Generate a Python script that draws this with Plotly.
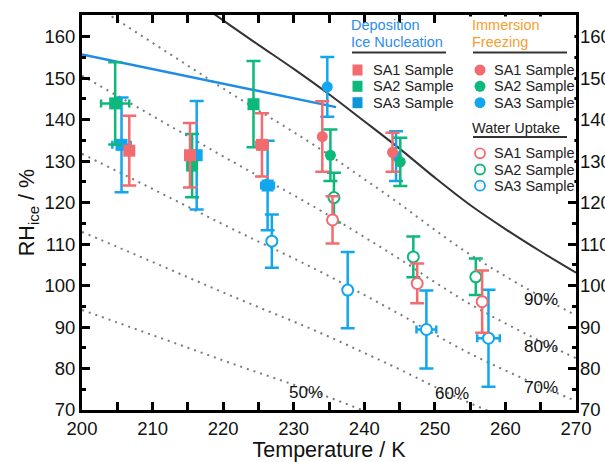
import plotly.graph_objects as go

# ---------------- data ----------------
# Deposition ice nucleation onsets (temperature / K, RH_ice / %, symmetric errors)
dep_sa1_T = [206.7, 215.3, 225.5]
dep_sa1_rh = [132.5, 131.4, 133.9]
dep_sa1_err = [8.4, 7.8, 7.6]
dep_sa1_xerr = [0.0, 0.0, 0.8]

dep_sa2_T = [204.7, 215.6, 224.3]
dep_sa2_rh = [143.9, 128.9, 143.7]
dep_sa2_err = [9.9, 7.6, 10.4]
dep_sa2_xerr = [2.0, 0.0, 0.5]

dep_sa3_T = [205.6, 216.25, 226.3]
dep_sa3_rh = [133.9, 131.4, 124.1]
dep_sa3_err = [11.4, 13.1, 10.8]
dep_sa3_xerr = [1.3, 0.5, 0.9]

# Immersion freezing
imm_sa1_T = [234.05, 244.0]
imm_sa1_rh = [135.9, 132.1]
imm_sa1_err = [8.5, 4.7]

imm_sa2_T = [235.2, 245.1]
imm_sa2_rh = [131.4, 129.8]
imm_sa2_err = [6.2, 5.8]

imm_sa3_T = [234.76, 244.5]
imm_sa3_rh = [147.9, 131.2]
imm_sa3_err = [7.2, 6.0]

# Water uptake
wu_sa1_T = [235.5, 247.5, 256.7]
wu_sa1_rh = [115.8, 100.5, 96.1]
wu_sa1_err = [5.7, 4.8, 7.5]

wu_sa2_T = [235.7, 246.95, 255.8]
wu_sa2_rh = [121.2, 106.9, 102.1]
wu_sa2_err = [6.0, 4.9, 4.4]

wu_sa3_T = [226.9, 237.65, 248.8, 257.6]
wu_sa3_rh = [110.7, 98.9, 89.4, 87.3]
wu_sa3_err = [6.4, 9.2, 9.4, 11.7]
wu_sa3_xerr = [0.3, 0.5, 1.4, 1.6]

# Deposition fit line
fit_T = [200, 236]
fit_rh = [155.7, 143.0]

# RH_ice at water saturation, and the RH_w levels drawn as dotted lines
sat_T = [200, 205, 210, 215, 220, 225, 230, 235, 240, 245, 250, 255, 260, 265, 270]
sat_rh = [188.2, 182.2, 176.1, 170.0, 163.9, 158.0, 152.2, 146.1, 139.6, 133.0,
          126.0, 119.4, 113.6, 108.2, 103.1]
rhw_levels = [50, 60, 70, 80, 90]
rhw_label_T = [231.8, 252.4, 265.0, 265.0, 265.0]
rhw_label_rh = [74.3, 74.0, 75.5, 85.4, 96.7]

y_ticks = [70, 80, 90, 100, 110, 120, 130, 140, 150, 160]

samples = ["SA1 Sample", "SA2 Sample", "SA3 Sample"]

# ---------------- style ----------------
C1 = "#F36B6E"
C2 = "#0DB87B"
C3 = "#12A6EE"
C3_LEG = "#0C98D8"
FIT = "#1E8BE8"
FONT = "Liberation Sans, Arial, Helvetica, sans-serif"

W, H = 605, 462
ML, MR, MT, MB = 82, 29, 15, 52
PW, PH = W - ML - MR, H - MT - MB


def px(x):
    return (x - ML) / PW


def py(y):
    return (H - MB - y) / PH


fig = go.Figure()

# dotted RH_w lines
for lv in rhw_levels:
    fig.add_trace(go.Scatter(
        x=sat_T, y=[v * lv / 100 for v in sat_rh], mode="lines",
        line=dict(color="#7a7a7a", width=2, dash="2px,5px", shape="spline"),
        hoverinfo="skip", showlegend=False))

# water saturation line
fig.add_trace(go.Scatter(
    x=sat_T, y=sat_rh, mode="lines",
    line=dict(color="#333333", width=2, shape="spline"),
    hoverinfo="skip", showlegend=False))

# deposition fit
fig.add_trace(go.Scatter(
    x=fit_T, y=fit_rh, mode="lines", line=dict(color=FIT, width=2.5),
    hoverinfo="skip", showlegend=False))


def add_series(T, rh, err, color, symbol, xerr=None, open_=False, size=11):
    ey = dict(type="data", array=err, symmetric=True, color=color,
              thickness=2.5, width=7)
    ex = None
    if xerr is not None:
        ex = dict(type="data", array=xerr, symmetric=True, color=color,
                  thickness=2.5, width=4)
    if open_:
        marker = dict(symbol=symbol, size=size, color="white",
                      line=dict(color=color, width=2))
    else:
        marker = dict(symbol=symbol, size=size, color=color,
                      line=dict(color=color, width=0))
    fig.add_trace(go.Scatter(x=T, y=rh, mode="markers", marker=marker,
                             error_y=ey, error_x=ex, showlegend=False))


# water uptake
add_series(wu_sa3_T, wu_sa3_rh, wu_sa3_err, C3, "circle", wu_sa3_xerr, True, 11)
add_series(wu_sa2_T, wu_sa2_rh, wu_sa2_err, C2, "circle", None, True, 11)
add_series(wu_sa1_T, wu_sa1_rh, wu_sa1_err, C1, "circle", None, True, 11)
# deposition
add_series(dep_sa3_T, dep_sa3_rh, dep_sa3_err, C3, "square", dep_sa3_xerr, False, 12)
add_series(dep_sa2_T, dep_sa2_rh, dep_sa2_err, C2, "square", dep_sa2_xerr, False, 12)
add_series(dep_sa1_T, dep_sa1_rh, dep_sa1_err, C1, "square", dep_sa1_xerr, False, 12)
# immersion
add_series(imm_sa3_T, imm_sa3_rh, imm_sa3_err, C3, "circle", None, False, 11)
add_series(imm_sa1_T, imm_sa1_rh, imm_sa1_err, C1, "circle", None, False, 11)
add_series(imm_sa2_T, imm_sa2_rh, imm_sa2_err, C2, "circle", None, False, 11)

# right-hand axis carrying tick labels only
fig.add_trace(go.Scatter(x=[200], y=[70], yaxis="y2", mode="markers",
                         marker=dict(opacity=0), showlegend=False,
                         hoverinfo="skip"))

annotations = []
for lv, tx, ty in zip(rhw_levels, rhw_label_T, rhw_label_rh):
    annotations.append(dict(x=tx, y=ty, xref="x", yref="y", text=f"{lv}%",
                            showarrow=False, font=dict(size=17, color="#111")))

# legend block
shapes = [dict(type="rect", xref="paper", yref="paper",
               x0=px(463), x1=px(574.4), y0=py(193), y1=py(16.6),
               fillcolor="white", line=dict(width=0), layer="above")]


def ltext(x, y, s, color="#222", size=14.5):
    annotations.append(dict(x=px(x), y=py(y), xref="paper", yref="paper",
                            text=s, showarrow=False, xanchor="left",
                            yanchor="middle", font=dict(size=size, color=color)))


def uline(x0, x1, y):
    shapes.append(dict(type="line", xref="paper", yref="paper",
                       x0=px(x0), x1=px(x1), y0=py(y), y1=py(y),
                       line=dict(color="#333", width=2), layer="above"))


ltext(349, 25, "Deposition", "#2D8CF0")
ltext(349, 42.3, "Ice Nucleation", "#2D8CF0")
uline(352, 446, 52.5)
ltext(470, 25, "Immersion", "#F89E2F")
ltext(470, 42.3, "Freezing", "#F89E2F")
uline(473, 567, 52.5)
ltext(470, 127.7, "Water Uptake", "#222")
uline(473, 567, 137)

rows_top = [70, 86.3, 102.7]
rows_bot = [153.3, 169.5, 185.7]
sq_cols = [C1, C2, C3_LEG]
ci_cols = [C1, C2, C3]
for yy, c, s in zip(rows_top, sq_cols, samples):
    shapes.append(dict(type="rect", xref="paper", yref="paper",
                       xsizemode="pixel", ysizemode="pixel",
                       xanchor=px(357.5), yanchor=py(yy),
                       x0=-5, x1=5, y0=-5.5, y1=5.5,
                       fillcolor=c, line=dict(width=0), layer="above"))
    ltext(370.5, yy, s)
for yy, c, s in zip(rows_top, ci_cols, samples):
    shapes.append(dict(type="circle", xref="paper", yref="paper",
                       xsizemode="pixel", ysizemode="pixel",
                       xanchor=px(480), yanchor=py(yy),
                       x0=-5.5, x1=5.5, y0=-5.5, y1=5.5,
                       fillcolor=c, line=dict(width=0), layer="above"))
    ltext(491.5, yy, s)
for yy, c, s in zip(rows_bot, ci_cols, samples):
    shapes.append(dict(type="circle", xref="paper", yref="paper",
                       xsizemode="pixel", ysizemode="pixel",
                       xanchor=px(480), yanchor=py(yy),
                       x0=-5, x1=5, y0=-5, y1=5,
                       fillcolor="white", line=dict(color=c, width=1.8),
                       layer="above"))
    ltext(491.5, yy, s)

tickfont = dict(size=18.5, color="#111", family=FONT)
minor = dict(dtick=5, ticks="inside", ticklen=4, tickwidth=3, tickcolor="black")
yrange = [70, 165.2]

fig.update_layout(
    template="none",
    width=W, height=H,
    margin=dict(l=ML, r=MR, t=MT, b=MB, pad=0),
    paper_bgcolor="white", plot_bgcolor="white",
    font=dict(family=FONT, color="#111"),
    showlegend=False,
    xaxis=dict(range=[200, 270], dtick=10, ticks="inside", ticklen=8,
               tickwidth=3, tickcolor="black", showline=True, linewidth=3,
               linecolor="black", mirror="allticks", showgrid=False,
               zeroline=False, tickfont=tickfont, minor=minor,
               automargin=False,
               title=dict(text="Temperature / K", font=dict(size=21.5),
                          standoff=2)),
    yaxis=dict(range=yrange, tickvals=y_ticks, ticks="inside", ticklen=8,
               tickwidth=3, tickcolor="black", showline=True, linewidth=3,
               linecolor="black", mirror=True, showgrid=False,
               zeroline=False, tickfont=tickfont, minor=minor,
               automargin=False,
               title=dict(text="RH<sub>ice</sub> / %", font=dict(size=21.5),
                          standoff=4)),
    yaxis2=dict(range=yrange, tickvals=y_ticks, overlaying="y", side="right",
                ticks="inside", ticklen=8, tickwidth=3, tickcolor="black",
                showline=False, showgrid=False, zeroline=False,
                ticklabelstandoff=3,
                automargin=False, tickfont=tickfont, minor=minor),
    annotations=annotations,
    shapes=shapes,
)

fig.write_html("out.html")
